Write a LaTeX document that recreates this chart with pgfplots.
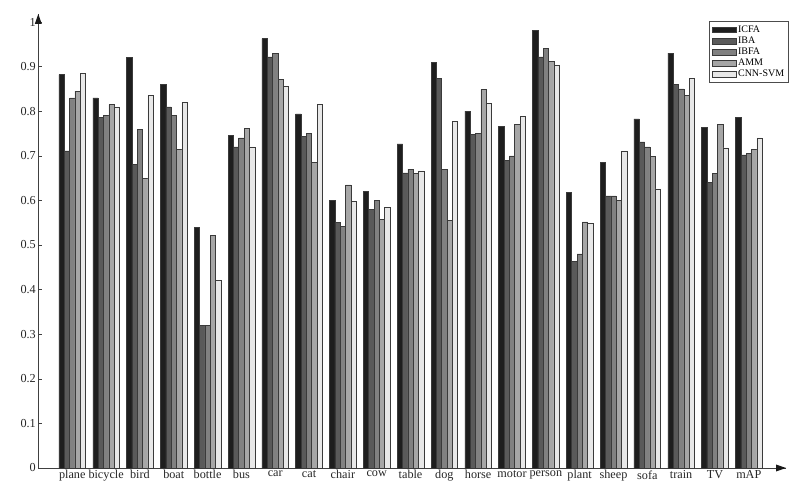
\documentclass[border=0pt]{standalone}
\usepackage{pgfplots}
\usepackage{pgfplotstable}
\pgfplotsset{compat=1.18}
\usetikzlibrary{arrows.meta}
\usepackage{fontspec}
\setmainfont{Liberation Serif}
\definecolor{cA}{HTML}{1E1E1E}
\definecolor{cB}{HTML}{5A5A5A}
\definecolor{cC}{HTML}{818181}
\definecolor{cD}{HTML}{A6A6A6}
\definecolor{cE}{HTML}{E8E8E8}
\definecolor{edge}{HTML}{3A3A3A}
\pgfplotstableread{
x icfa iba ibfa amm cnn
0 0.882 0.711 0.830 0.845 0.885
1 0.830 0.787 0.790 0.815 0.810
2 0.920 0.680 0.760 0.650 0.835
3 0.860 0.810 0.790 0.714 0.820
4 0.540 0.320 0.320 0.522 0.420
5 0.746 0.720 0.740 0.762 0.720
6 0.963 0.922 0.930 0.872 0.855
7 0.794 0.743 0.751 0.686 0.816
8 0.600 0.550 0.541 0.635 0.598
9 0.620 0.580 0.600 0.558 0.585
10 0.727 0.662 0.670 0.661 0.666
11 0.910 0.873 0.670 0.556 0.778
12 0.800 0.748 0.750 0.849 0.818
13 0.766 0.690 0.700 0.770 0.788
14 0.982 0.922 0.941 0.912 0.903
15 0.618 0.463 0.480 0.552 0.548
16 0.685 0.610 0.610 0.600 0.711
17 0.783 0.731 0.720 0.698 0.626
18 0.930 0.861 0.850 0.836 0.873
19 0.764 0.640 0.660 0.770 0.718
20 0.786 0.702 0.706 0.714 0.740
}\datatable
\begin{document}
\begin{tikzpicture}
\begin{axis}[
  scale only axis,
  width=747.7bp, height=454bp,
  xmin=-1.005, xmax=21.1,
  ymin=0, ymax=1.018,
  axis lines=left,
  axis line style={draw=black!75, line width=0.7bp, -},
  xtick={0,...,20},
  xticklabels={plane,bicycle,bird,boat,bottle,bus,car,cat,chair,cow,table,dog,horse,motor,person,plant,sheep,sofa,train,TV,mAP},
  xtick style={draw=none},
  ytick={0,0.1,...,1},
  yticklabels={0,0.1,0.2,0.3,0.4,0.5,0.6,0.7,0.8,0.9,1},
  tick align=inside,
  major tick length=4bp,
  ytick style={draw=black!75, line width=0.6bp},
  tick label style={font=\fontsize{12.2bp}{14bp}\selectfont, black!85},
  xticklabel style={yshift=1bp},
  yticklabel style={xshift=1bp},
  /pgf/number format/assume math mode=true,
  bar width=0.158,
  clip=false,
  legend style={at={(rel axis cs:1.004,0.984)}, anchor=north east,
    font=\fontsize{10bp}{12bp}\selectfont, draw=black!70, line width=0.6bp,
    row sep=-1bp, inner xsep=2.5bp, inner ysep=2.2bp, cells={anchor=west}},
  legend image code/.code={\draw[#1] (0bp,-2.9bp) rectangle (23.5bp,2.9bp);},
  every axis plot/.append style={draw=edge, line width=0.5bp},
]
\addplot[ybar, bar shift=-0.316, fill=cA] table[x=x,y=icfa]{\datatable};
\addlegendentry{ICFA}
\addplot[ybar, bar shift=-0.158, fill=cB] table[x=x,y=iba]{\datatable};
\addlegendentry{IBA}
\addplot[ybar, bar shift=0, fill=cC] table[x=x,y=ibfa]{\datatable};
\addlegendentry{IBFA}
\addplot[ybar, bar shift=0.158, fill=cD] table[x=x,y=amm]{\datatable};
\addlegendentry{AMM}
\addplot[ybar, bar shift=0.316, fill=cE] table[x=x,y=cnn]{\datatable};
\addlegendentry{CNN-SVM}
\coordinate (O) at (rel axis cs:0,0);
\coordinate (XE) at (rel axis cs:1,0);
\coordinate (YE) at (rel axis cs:0,1);
\path (rel axis cs:0,0) ++(-38.3bp,-22bp) coordinate (bbl);
\path (rel axis cs:1,1) ++(24bp,14bp) coordinate (bbr);
\path (bbl) rectangle (bbr);
\end{axis}
\fill[black!90] (YE) -- ++(-3.5bp,-10bp) -- ++(7bp,0) -- cycle;
\fill[black!90] (XE) -- ++(-10bp,-3.5bp) -- ++(0,7bp) -- cycle;
\end{tikzpicture}
\end{document}
